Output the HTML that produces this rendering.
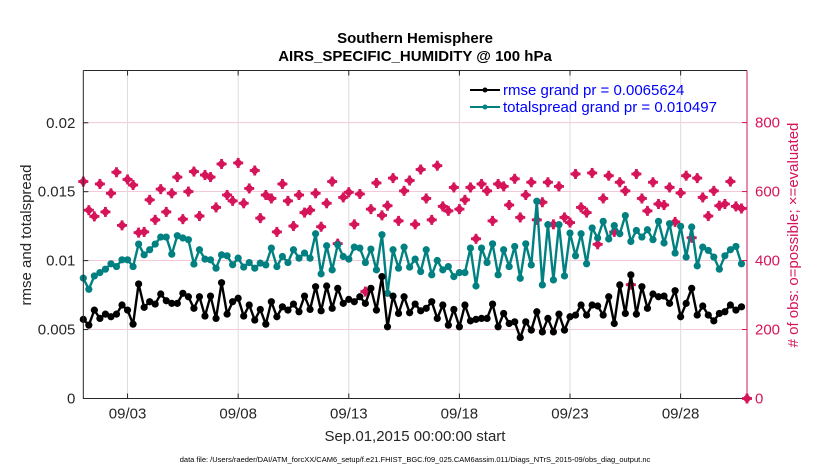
<!DOCTYPE html>
<html><head><meta charset="utf-8"><style>
body{margin:0;background:#fff;}
svg{display:block;font-family:"Liberation Sans",Arial,sans-serif;}
</style></head><body>
<svg id="chart" width="830" height="470" viewBox="0 0 830 470">
<rect width="830" height="470" fill="#fff"/>
<g id="grid"></g>
<g id="series"></g>
<g id="axes"></g>
<text x="415" y="43" text-anchor="middle" font-size="15" font-weight="bold" fill="#000">Southern Hemisphere</text>
<text x="415" y="61" text-anchor="middle" font-size="15" font-weight="bold" fill="#000">AIRS_SPECIFIC_HUMIDITY @ 100 hPa</text>
<text transform="translate(31,235) rotate(-90)" text-anchor="middle" font-size="15" fill="#262626">rmse and totalspread</text>
<text transform="translate(798,235) rotate(-90)" text-anchor="middle" font-size="15" fill="#d6145a"># of obs: o=possible; ×=evaluated</text>
<text x="415" y="441" text-anchor="middle" font-size="15" fill="#262626">Sep.01,2015 00:00:00 start</text>
<text x="415" y="462" text-anchor="middle" font-size="7.5" fill="#000">data file: /Users/raeder/DAI/ATM_forcXX/CAM6_setup/f.e21.FHIST_BGC.f09_025.CAM6assim.011/Diags_NTrS_2015-09/obs_diag_output.nc</text>
<g>
<line x1="470" y1="90" x2="500" y2="90" stroke="#000" stroke-width="2"/><circle cx="485" cy="90" r="2.5" fill="#000"/>
<text x="503" y="95" font-size="15" fill="#0000ff">rmse grand pr = 0.0065624</text>
<line x1="470" y1="107" x2="500" y2="107" stroke="#008080" stroke-width="2"/><circle cx="485" cy="107" r="2.5" fill="#008080"/>
<text x="503" y="112" font-size="15" fill="#0000ff">totalspread grand pr = 0.010497</text>
</g>
</svg>
<script>
const rmse=[.00574,.00532,.00641,.00581,.00612,.00593,.00612,.00678,.00641,.00539,.00831,.00661,.00702,.00685,.00758,.00709,.00690,.00690,.00763,.00738,.00654,.00738,.00598,.00743,.00581,.00840,.00612,.00702,.00727,.00598,.00678,
.00569,.00646,.00539,.00702,.00593,.00665,.00641,.00685,.00629,.00743,.00646,.00811,.00636,.00816,.00654,.00799,.00690,.00719,.00702,.00738,.00690,.00799,.00641,.00884,.00520,.00743,.00617,.00738,.00622,
.00685,.00636,.00654,.00702,.00581,.00678,.00532,.00646,.00520,.00678,.00563,.00574,.00581,.00581,.00685,.00520,.00617,.00544,.00556,.00442,.00556,.00496,.00629,.00483,.00581,.00483,.00612,.00496,.00593,.00605,
.00678,.00605,.00678,.00671,.00605,.00738,.00544,.00824,.00617,.00897,.00612,.00811,.00654,.00758,.00738,.00743,.00690,.00782,.00593,.00690,.00799,.00605,.00671,.00605,.00563,.00617,.00629,.00678,.00641,.00665];
const spread=[.00873,.00792,.00889,.00913,.00938,.00977,.00957,.01006,.01006,.00957,.01120,.01042,.01079,.01120,.01171,.01171,.01047,.01181,.01164,.01152,.00975,.01079,.01011,.01006,.00945,.01042,.01035,.00970,.01018,.00953,.00986,
.00945,.00982,.00969,.01091,.00957,.01030,.00986,.01079,.01018,.01055,.01018,.01195,.00904,.01108,.00933,.01115,.01030,.01011,.01098,.01091,.00986,.01084,.00933,.01188,.00763,.01079,.00945,.01098,.00953,
.01011,.00921,.01079,.00897,.01001,.00933,.00957,.00884,.00913,.00913,.01091,.00816,.01091,.00986,.01122,.00897,.01079,.00957,.01103,.00872,.01122,.00969,.01431,.00824,.01261,.00860,.01261,.00889,.01200,.01035,
.01195,.00977,.01237,.01164,.01285,.01157,.01254,.01195,.01327,.01139,.01219,.01171,.01224,.01152,.01285,.01128,.01268,.01055,.01249,.01026,.01244,.00962,.01098,.01074,.01026,.00938,.01035,.01079,.01103,.00977];
const obsCount=[629,546,528,622,541,595,656,502,635,619,481,483,576,518,607,541,595,642,520,600,658,529,648,642,554,680,590,573,683,566,609,
661,523,590,580,483,622,573,500,590,539,546,595,498,566,629,449,583,598,505,593,310,549,625,531,559,639,515,602,632,
505,664,580,518,675,557,544,612,549,576,612,463,622,602,515,622,615,561,637,525,590,627,518,569,627,505,615,525,510,651,
554,539,654,447,580,646,483,627,602,330,651,580,544,627,564,561,612,512,596,646,466,639,583,529,602,559,564,629,557,551];
const finalObs=[0];
const leftTicks=[0,0.005,0.01,0.015,0.02];
const leftTickLabels=["0","0.005","0.01","0.015","0.02"];
const rightTicks=[0,200,400,600,800];
const dayTicks=[2,7,12,17,22,27];
const dayTickLabels=["09/03","09/08","09/13","09/18","09/23","09/28"];

const L=83.3,R=747,T=70.5,B=398.5;
const xs=d=>L+(d/30)*(R-L);
const yl=v=>B-(v/0.02379)*(B-T);
const yr=c=>B-(c/951)*(B-T);
const NS="http://www.w3.org/2000/svg";
function mk(tag,attrs,parent){const e=document.createElementNS(NS,tag);for(const k in attrs)e.setAttribute(k,attrs[k]);parent.appendChild(e);return e;}
const grid=document.getElementById('grid'),ser=document.getElementById('series'),ax=document.getElementById('axes');

rightTicks.forEach(t=>{const g=mk('line',{x1:L,x2:R,y1:yr(t),y2:yr(t),stroke:'#f3c8d8','stroke-width':1},grid);

});
dayTicks.forEach(d=>{const g=mk('line',{x1:xs(d),x2:xs(d),y1:T,y2:B,stroke:'#dcdcdc','stroke-width':1},grid);

});

function obsMark(cx,cy){const g=mk('g',{},ser);
mk('rect',{x:cx-3.4,y:cy-3.4,width:6.8,height:6.8,fill:'#d6145a',transform:`rotate(45 ${cx} ${cy})`},g);
mk('rect',{x:cx-5,y:cy-1.4,width:10,height:2.8,fill:'#d6145a'},g);
mk('rect',{x:cx-1.4,y:cy-5,width:2.8,height:10,fill:'#d6145a'},g);return g;}
obsCount.forEach((c,i)=>{const m=obsMark(xs(i/4),yr(c));

});
finalObs.forEach(c=>{const m=obsMark(xs(30),yr(c));

});

function line(arr,color,name){
const p=mk('polyline',{points:arr.map((v,i)=>xs(i/4)+','+yl(v)).join(' '),fill:'none',stroke:color,'stroke-width':2.4,'stroke-linejoin':'round'},ser);


arr.forEach((v,i)=>{const c=mk('circle',{cx:xs(i/4),cy:yl(v),r:3.6,fill:color},ser);

});}
line(spread,'#008080','totalspread');
line(rmse,'#000','rmse');

const fr=mk('path',{d:`M${L} ${T}H${R}M${L} ${T}V${B}H${R}`,fill:'none',stroke:'#262626','stroke-width':1},ax);


const ra=mk('line',{x1:R,x2:R,y1:T,y2:B,stroke:'#d6145a','stroke-width':1},ax);


leftTicks.forEach((t,i)=>{mk('line',{x1:L,x2:L+5,y1:yl(t),y2:yl(t),stroke:'#262626'},ax);
const tx=mk('text',{x:L-8,y:yl(t)+5,'text-anchor':'end','font-size':15,fill:'#262626'},ax);tx.textContent=leftTickLabels[i];

});
rightTicks.forEach(t=>{mk('line',{x1:R-5,x2:R,y1:yr(t),y2:yr(t),stroke:'#d6145a'},ax);
const tx=mk('text',{x:R+8,y:yr(t)+5,'font-size':15,fill:'#d6145a'},ax);tx.textContent=String(t);

});
dayTicks.forEach((d,i)=>{mk('line',{x1:xs(d),x2:xs(d),y1:B,y2:B-5,stroke:'#262626'},ax);
mk('line',{x1:xs(d),x2:xs(d),y1:T,y2:T+5,stroke:'#262626'},ax);
const tx=mk('text',{x:xs(d),y:B+20,'text-anchor':'middle','font-size':15,fill:'#262626'},ax);tx.textContent=dayTickLabels[i];

});
</script>
</body></html>
